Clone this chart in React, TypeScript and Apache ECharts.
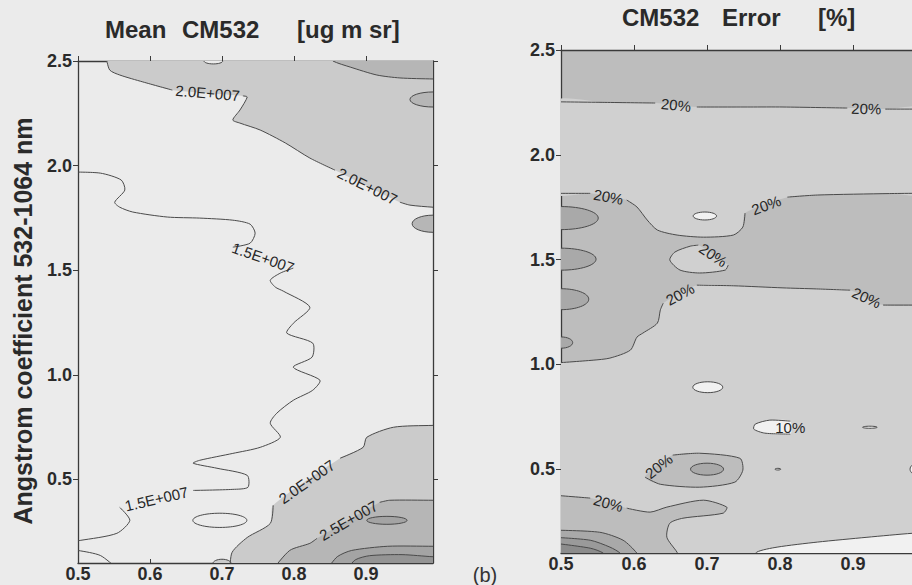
import React, { useEffect, useRef } from 'react';
import * as echarts from 'echarts';

type Pt = number[];
type Label = string | [string, number];
type Contour = { segs: Pt[][]; labels: Label[]; closed?: boolean };
type Fill = { level: number; pts: Pt[] };

// ---------- axes ----------
const X_TICKS = [0.5, 0.6, 0.7, 0.8, 0.9];
const Y_TICKS = [0.5, 1.0, 1.5, 2.0, 2.5];
const X_MIN = 0.5;
const X_MAX = 0.993;
const Y_MIN = 0.1;
const Y_MAX = 2.5;

// ---------- (a) Mean CM532 [ug m sr]  : points are [x, Angstrom coefficient] ----------
const L_C20_UP: Contour = {
  segs: [
    [[0.539, 2.52], [0.544, 2.457], [0.558, 2.433], [0.59, 2.4], [0.631, 2.361]],
    [[0.729, 2.333], [0.735, 2.328], [0.725, 2.266], [0.715, 2.218], [0.725, 2.203], [0.753, 2.17], [0.788, 2.108], [0.822, 2.036], [0.857, 1.978]],
    [[0.947, 1.825], [0.961, 1.811], [0.993, 1.801], [1.01, 1.8]],
  ],
  labels: ['2.0E+007', '2.0E+007'],
};
const L_C20_LO: Contour = {
  segs: [
    [[0.711, 0.07], [0.714, 0.151], [0.735, 0.222], [0.767, 0.289], [0.771, 0.376]],
    [[0.864, 0.601], [0.896, 0.653], [0.901, 0.701], [0.938, 0.749], [0.993, 0.758], [1.01, 0.758]],
  ],
  labels: ['2.0E+007'],
};
const L_C25_UP: Contour = {
  segs: [[[0.852, 2.52], [0.854, 2.5], [0.878, 2.471], [0.915, 2.433], [0.947, 2.419], [0.993, 2.414], [1.01, 2.414]]],
  labels: [],
};
const L_C25_LO: Contour = {
  segs: [
    [[0.771, 0.07], [0.794, 0.16], [0.822, 0.194], [0.832, 0.218]],
    [[0.919, 0.39], [0.933, 0.4], [0.993, 0.4], [1.01, 0.4]],
  ],
  labels: ['2.5E+007'],
};
const L_C30_LO: Contour = {
  segs: [[[0.846, 0.07], [0.86, 0.13], [0.88, 0.16], [0.93, 0.18], [0.993, 0.18], [1.01, 0.18]]],
  labels: [],
};
const L_C35_LO: Contour = {
  segs: [[[0.874, 0.07], [0.885, 0.115], [0.905, 0.135], [0.95, 0.14], [0.993, 0.13], [1.01, 0.13]]],
  labels: [],
};
const L_C15: Contour = {
  segs: [
    [[0.49, 1.969], [0.531, 1.964], [0.56, 1.931], [0.565, 1.883], [0.551, 1.825], [0.558, 1.801], [0.576, 1.778], [0.624, 1.754], [0.669, 1.749], [0.715, 1.739], [0.739, 1.72], [0.746, 1.677], [0.739, 1.629], [0.715, 1.61]],
    [[0.799, 1.51], [0.781, 1.486], [0.767, 1.452], [0.774, 1.419], [0.785, 1.4], [0.822, 1.323], [0.799, 1.246], [0.79, 1.199], [0.826, 1.151], [0.825, 1.084], [0.799, 1.036], [0.836, 0.974], [0.826, 0.926], [0.799, 0.878], [0.776, 0.816], [0.767, 0.768], [0.781, 0.701], [0.753, 0.653], [0.715, 0.624], [0.669, 0.591], [0.66, 0.577], [0.693, 0.553], [0.735, 0.519], [0.736, 0.462], [0.715, 0.452], [0.66, 0.447]],
    [[0.558, 0.366], [0.572, 0.304], [0.554, 0.242], [0.503, 0.208], [0.49, 0.205]],
  ],
  labels: ['1.5E+007', '1.5E+007'],
};
const L_C10: Contour = {
  segs: [[[0.49, 0.16], [0.5, 0.16], [0.531, 0.136], [0.552, 0.08]]],
  labels: [],
};
// islands: [cx, cy, rx, ry, level]
const L_ISLANDS = [
  [0.993, 2.316, 0.032, 0.036, 25],
  [0.993, 1.722, 0.029, 0.041, 25],
  [0.929, 0.304, 0.028, 0.019, 30],
  [0.7, 0.098, 0.0125, 0.02, 20],
  [0.688, 2.5, 0.013, 0.014, 15],
  [0.697, 0.304, 0.0375, 0.034, 15],
];

// ---------- (b) CM532 Error [%] ----------
const R_TOP20: Contour = {
  segs: [
    [[0.49, 2.253], [0.56, 2.25], [0.629, 2.247]],
    [[0.686, 2.228], [0.759, 2.228], [0.804, 2.228], [0.892, 2.223]],
    [[0.944, 2.218], [1.01, 2.218]],
  ],
  labels: ['20%', '20%'],
};
const R_U20: Contour = {
  segs: [
    [[0.49, 1.816], [0.54, 1.816]],
    [[0.59, 1.784], [0.604, 1.751], [0.618, 1.689], [0.632, 1.641], [0.659, 1.617], [0.695, 1.607], [0.736, 1.617], [0.749, 1.655], [0.752, 1.722]],
    [[0.81, 1.798], [0.851, 1.808], [0.95, 1.815], [1.01, 1.817]],
  ],
  labels: ['20%', '20%'],
};
const R_MID20: Contour = {
  segs: [
    [[1.01, 1.283], [0.941, 1.283]],
    [[0.896, 1.354], [0.85, 1.36], [0.804, 1.365], [0.736, 1.375], [0.686, 1.378]],
    [[0.64, 1.292], [0.636, 1.259], [0.632, 1.197], [0.612, 1.149], [0.604, 1.13], [0.595, 1.068], [0.567, 1.03], [0.544, 1.02], [0.49, 1.006]],
  ],
  labels: ['20%', '20%'],
};
const R_BL20: Contour = {
  segs: [
    [[0.49, 0.376], [0.54, 0.362]],
    [[0.59, 0.314], [0.622, 0.295], [0.645, 0.319], [0.695, 0.352], [0.727, 0.319], [0.722, 0.29], [0.667, 0.266], [0.649, 0.242], [0.645, 0.175], [0.659, 0.103], [0.662, 0.07]],
  ],
  labels: ['20%'],
};
const R_BL30: Contour = { segs: [[[0.49, 0.209], [0.553, 0.199], [0.585, 0.161], [0.604, 0.099], [0.606, 0.07]]], labels: [] };
const R_BL35: Contour = { segs: [[[0.49, 0.175], [0.54, 0.161], [0.567, 0.128], [0.581, 0.099], [0.583, 0.07]]], labels: [] };
const R_BL40: Contour = { segs: [[[0.49, 0.147], [0.54, 0.123], [0.558, 0.099], [0.56, 0.07]]], labels: [] };
const R_BR10: Contour = {
  segs: [[[0.765, 0.07], [0.768, 0.104], [0.796, 0.128], [0.851, 0.152], [0.919, 0.175], [0.981, 0.194], [1.01, 0.197]]],
  labels: [],
};
const R_ISL_LIGHT: Contour = {
  segs: [[[0.729, 1.474], [0.725, 1.45], [0.69, 1.436], [0.663, 1.45], [0.649, 1.498], [0.656, 1.536], [0.677, 1.564], [0.688, 1.569]]],
  labels: ['20%'],
  closed: true,
};
const R_ISL_DARK: Contour = {
  segs: [[[0.653, 0.567], [0.69, 0.576], [0.745, 0.552], [0.749, 0.495], [0.738, 0.438], [0.69, 0.414], [0.636, 0.428], [0.615, 0.462]]],
  labels: ['20%'],
  closed: true,
};
const R_ISL_10: Contour = {
  segs: [[[0.814, 0.729], [0.786, 0.734], [0.766, 0.715], [0.764, 0.691], [0.779, 0.672], [0.814, 0.667]]],
  labels: [['10%', 0]],
  closed: true,
};
const R_ISLANDS = [
  [0.5, 1.698, 0.051, 0.055, 30],
  [0.5, 1.502, 0.048, 0.0525, 30],
  [0.5, 1.311, 0.038, 0.05, 30],
  [0.5, 1.104, 0.016, 0.027, 30],
  [0.7, 0.5, 0.0226, 0.0286, 30],
  [0.697, 1.708, 0.016, 0.019, 5],
  [0.701, 0.891, 0.0205, 0.026, 5],
  [0.923, 0.7, 0.01, 0.005, 5],
  [0.797, 0.5, 0.004, 0.004, 5],
  [0.99, 0.5, 0.012, 0.03, 5],
];

const flat = (c: Contour): Pt[] => c.segs.reduce((a: Pt[], s) => a.concat(s), []);

const L_FILLS: Fill[] = [
  { level: 20, pts: [...flat(L_C20_UP), [1.1, 1.8], [1.1, 2.6], [0.539, 2.6]] },
  { level: 20, pts: [...flat(L_C20_LO), [1.1, 0.758], [1.1, 0], [0.711, 0]] },
  { level: 25, pts: [...flat(L_C25_UP), [1.1, 2.414], [1.1, 2.6], [0.852, 2.6]] },
  { level: 25, pts: [...flat(L_C25_LO), [1.1, 0.4], [1.1, 0], [0.771, 0]] },
  { level: 30, pts: [...flat(L_C30_LO), [1.1, 0.18], [1.1, 0], [0.846, 0]] },
  { level: 35, pts: [...flat(L_C35_LO), [1.1, 0.13], [1.1, 0], [0.874, 0]] },
];
const L_LINES: Contour[] = [L_C20_UP, L_C20_LO, L_C25_UP, L_C25_LO, L_C30_LO, L_C35_LO, L_C15, L_C10];

const R_FILLS: Fill[] = [
  { level: 15, pts: [...flat(R_TOP20), ...flat(R_U20).slice().reverse()] },
  { level: 15, pts: [...flat(R_MID20), [0.45, 1.006], [0.45, 0], [1.1, 0], [1.1, 1.283]] },
  { level: 25, pts: [...flat(R_BL20), [0.662, 0], [0.45, 0], [0.45, 0.376]] },
  { level: 30, pts: [...flat(R_BL30), [0.606, 0], [0.45, 0], [0.45, 0.209]] },
  { level: 35, pts: [...flat(R_BL35), [0.583, 0], [0.45, 0], [0.45, 0.175]] },
  { level: 40, pts: [...flat(R_BL40), [0.56, 0], [0.45, 0], [0.45, 0.147]] },
  { level: 5, pts: [...flat(R_BR10), [1.1, 0.197], [1.1, 0], [0.765, 0]] },
  { level: 15, pts: flat(R_ISL_LIGHT) },
  { level: 25, pts: flat(R_ISL_DARK) },
  { level: 5, pts: flat(R_ISL_10) },
];
const R_LINES: Contour[] = [R_TOP20, R_U20, R_MID20, R_BL20, R_BL30, R_BL35, R_BL40, R_BR10, R_ISL_LIGHT, R_ISL_DARK, R_ISL_10];

const PAGE_BG = '#ebebeb';
const L_PALETTE: Record<number, string> = { 15: PAGE_BG, 20: '#cbcbcb', 25: '#b6b6b6', 30: '#a4a4a4', 35: '#949494' };
const R_PALETTE: Record<number, string> = { 5: '#f1f1f1', 15: '#d0d0d0', 25: '#bdbdbd', 30: '#a9a9a9', 35: '#9a9a9a', 40: '#8c8c8c' };
const LINE_COLOR = '#4a4a4a';
const FONT = '"Liberation Sans", Arial, Helvetica, sans-serif';
const SMOOTH = 0.25;

function fillSeries(fills: Fill[], islands: number[][], palette: Record<number, string>, axisIdx: number) {
  const n = fills.length;
  const data = [
    ...fills.map((f, i) => [f.pts[0][0], f.pts[0][1], i]),
    ...islands.map((e, i) => [e[0], e[1], n + i]),
  ];
  return {
    type: 'custom',
    coordinateSystem: 'cartesian2d',
    xAxisIndex: axisIdx,
    yAxisIndex: axisIdx,
    clip: true,
    silent: true,
    z: 1,
    data,
    renderItem: (params: any, api: any) => {
      const i = params.dataIndex;
      if (i < n) {
        const f = fills[i];
        return {
          type: 'polygon',
          shape: { points: f.pts.map((p) => api.coord(p)), smooth: SMOOTH },
          style: { fill: palette[f.level], stroke: null },
        };
      }
      const e = islands[i - n];
      const c = api.coord([e[0], e[1]]);
      const s = api.size([e[2], e[3]]);
      return {
        type: 'ellipse',
        shape: { cx: c[0], cy: c[1], rx: s[0], ry: s[1] },
        style: { fill: palette[e[4]], stroke: null },
      };
    },
  };
}

function lineSeries(lines: Contour[], islands: number[][], axisIdx: number) {
  const n = lines.length;
  const data = [
    ...lines.map((c, i) => [c.segs[0][0][0], c.segs[0][0][1], i]),
    ...islands.map((e, i) => [e[0], e[1], n + i]),
  ];
  return {
    type: 'custom',
    coordinateSystem: 'cartesian2d',
    xAxisIndex: axisIdx,
    yAxisIndex: axisIdx,
    clip: true,
    silent: true,
    z: 3,
    data,
    renderItem: (params: any, api: any) => {
      const i = params.dataIndex;
      if (i >= n) {
        const e = islands[i - n];
        const c = api.coord([e[0], e[1]]);
        const s = api.size([e[2], e[3]]);
        return {
          type: 'ellipse',
          shape: { cx: c[0], cy: c[1], rx: s[0], ry: s[1] },
          style: { fill: 'none', stroke: LINE_COLOR, lineWidth: 1 },
        };
      }
      const ct = lines[i];
      const segsPx = ct.segs.map((s) => s.map((p) => api.coord(p)));
      const children: any[] = segsPx.map((s) => ({
        type: 'polyline',
        shape: { points: s, smooth: SMOOTH },
        style: { fill: 'none', stroke: LINE_COLOR, lineWidth: 1 },
      }));
      ct.labels.forEach((lab, k) => {
        const a = segsPx[k][segsPx[k].length - 1];
        const b = k + 1 < segsPx.length ? segsPx[k + 1][0] : segsPx[0][0];
        let ang = Math.atan2(b[1] - a[1], b[0] - a[0]);
        if (ang > Math.PI / 2) ang -= Math.PI;
        if (ang < -Math.PI / 2) ang += Math.PI;
        let text = lab as string;
        let rot = -ang;
        if (Array.isArray(lab)) {
          text = lab[0];
          rot = (lab[1] * Math.PI) / 180;
        }
        children.push({
          type: 'text',
          x: (a[0] + b[0]) / 2,
          y: (a[1] + b[1]) / 2,
          rotation: rot,
          style: {
            text,
            fill: '#262626',
            font: `15px ${FONT}`,
            align: 'center',
            verticalAlign: 'middle',
          },
        });
      });
      return { type: 'group', children };
    },
  };
}

const tickFmt = (v: number) => v.toFixed(1);
const axisLine = { show: true, onZero: false, lineStyle: { color: '#3a3a3a', width: 1.3 } };
const labelStyle = { fontFamily: FONT, fontWeight: 'bold', fontSize: 18, color: '#2a2a2a' };

function axesFor(gridIndex: number) {
  const xBase = { type: 'value', gridIndex, min: X_MIN, max: X_MAX, splitLine: { show: false }, axisLine };
  const yBase = { type: 'value', gridIndex, min: Y_MIN, max: Y_MAX, splitLine: { show: false }, axisLine };
  return {
    x: [
      {
        ...xBase,
        position: 'bottom',
        axisTick: { show: true, inside: true, length: 4, customValues: X_TICKS, lineStyle: { color: '#3a3a3a' } },
        axisLabel: { ...labelStyle, margin: 2, customValues: X_TICKS, formatter: tickFmt },
      },
      {
        ...xBase,
        position: 'top',
        axisTick: { show: true, inside: false, length: 5, customValues: X_TICKS, lineStyle: { color: '#3a3a3a' } },
        axisLabel: { show: false },
      },
    ],
    y: [
      {
        ...yBase,
        position: 'left',
        axisTick: { show: true, inside: false, length: 5, customValues: Y_TICKS, lineStyle: { color: '#3a3a3a' } },
        axisLabel: { ...labelStyle, margin: 6, customValues: Y_TICKS, formatter: tickFmt },
      },
      {
        ...yBase,
        position: 'right',
        axisTick: { show: true, inside: false, length: 5, customValues: Y_TICKS, lineStyle: { color: '#3a3a3a' } },
        axisLabel: { show: false },
      },
    ],
  };
}

export default function App() {
  const ref = useRef<HTMLDivElement>(null);
  useEffect(() => {
    if (!ref.current) return;
    const chart = echarts.init(ref.current, null, { renderer: 'svg' });
    const a0 = axesFor(0);
    const a1 = axesFor(1);
    const titleText = (text: string, x: number, y: number) => ({
      type: 'text',
      x,
      y,
      style: { text, font: `bold 24px ${FONT}`, fill: '#2a2a2a', align: 'left', verticalAlign: 'middle' },
    });
    chart.setOption({
      animation: false,
      backgroundColor: PAGE_BG,
      grid: [
        { left: 78, top: 61, width: 355, height: 502, containLabel: false, outerBoundsMode: 'none', show: true, backgroundColor: PAGE_BG, borderWidth: 0 },
        { left: 561, top: 50, width: 360, height: 503, containLabel: false, outerBoundsMode: 'none', show: true, backgroundColor: R_PALETTE[25], borderWidth: 0 },
      ],
      xAxis: [...a0.x, ...a1.x],
      yAxis: [...a0.y, ...a1.y],
      series: [
        fillSeries(L_FILLS, L_ISLANDS, L_PALETTE, 0),
        lineSeries(L_LINES, L_ISLANDS, 0),
        fillSeries(R_FILLS, R_ISLANDS, R_PALETTE, 2),
        lineSeries(R_LINES, R_ISLANDS, 2),
      ],
      graphic: [
        titleText('Mean', 105, 29),
        titleText('CM532', 182, 29),
        titleText('[ug m sr]', 297, 29),
        titleText('CM532', 622, 17),
        titleText('Error', 722, 17),
        titleText('[%]', 818, 17),
        {
          type: 'text',
          x: 23,
          y: 321,
          rotation: Math.PI / 2,
          style: {
            text: 'Angstrom coefficient 532-1064 nm',
            font: `bold 25px ${FONT}`,
            fill: '#2a2a2a',
            align: 'center',
            verticalAlign: 'middle',
          },
        },
        {
          type: 'text',
          x: 485,
          y: 575,
          style: { text: '(b)', font: `20px ${FONT}`, fill: '#333', align: 'center', verticalAlign: 'middle' },
        },
      ],
    });
    return () => chart.dispose();
  }, []);
  return <div ref={ref} style={{ position: 'fixed', left: 0, top: 0, width: 912, height: 585 }} />;
}
